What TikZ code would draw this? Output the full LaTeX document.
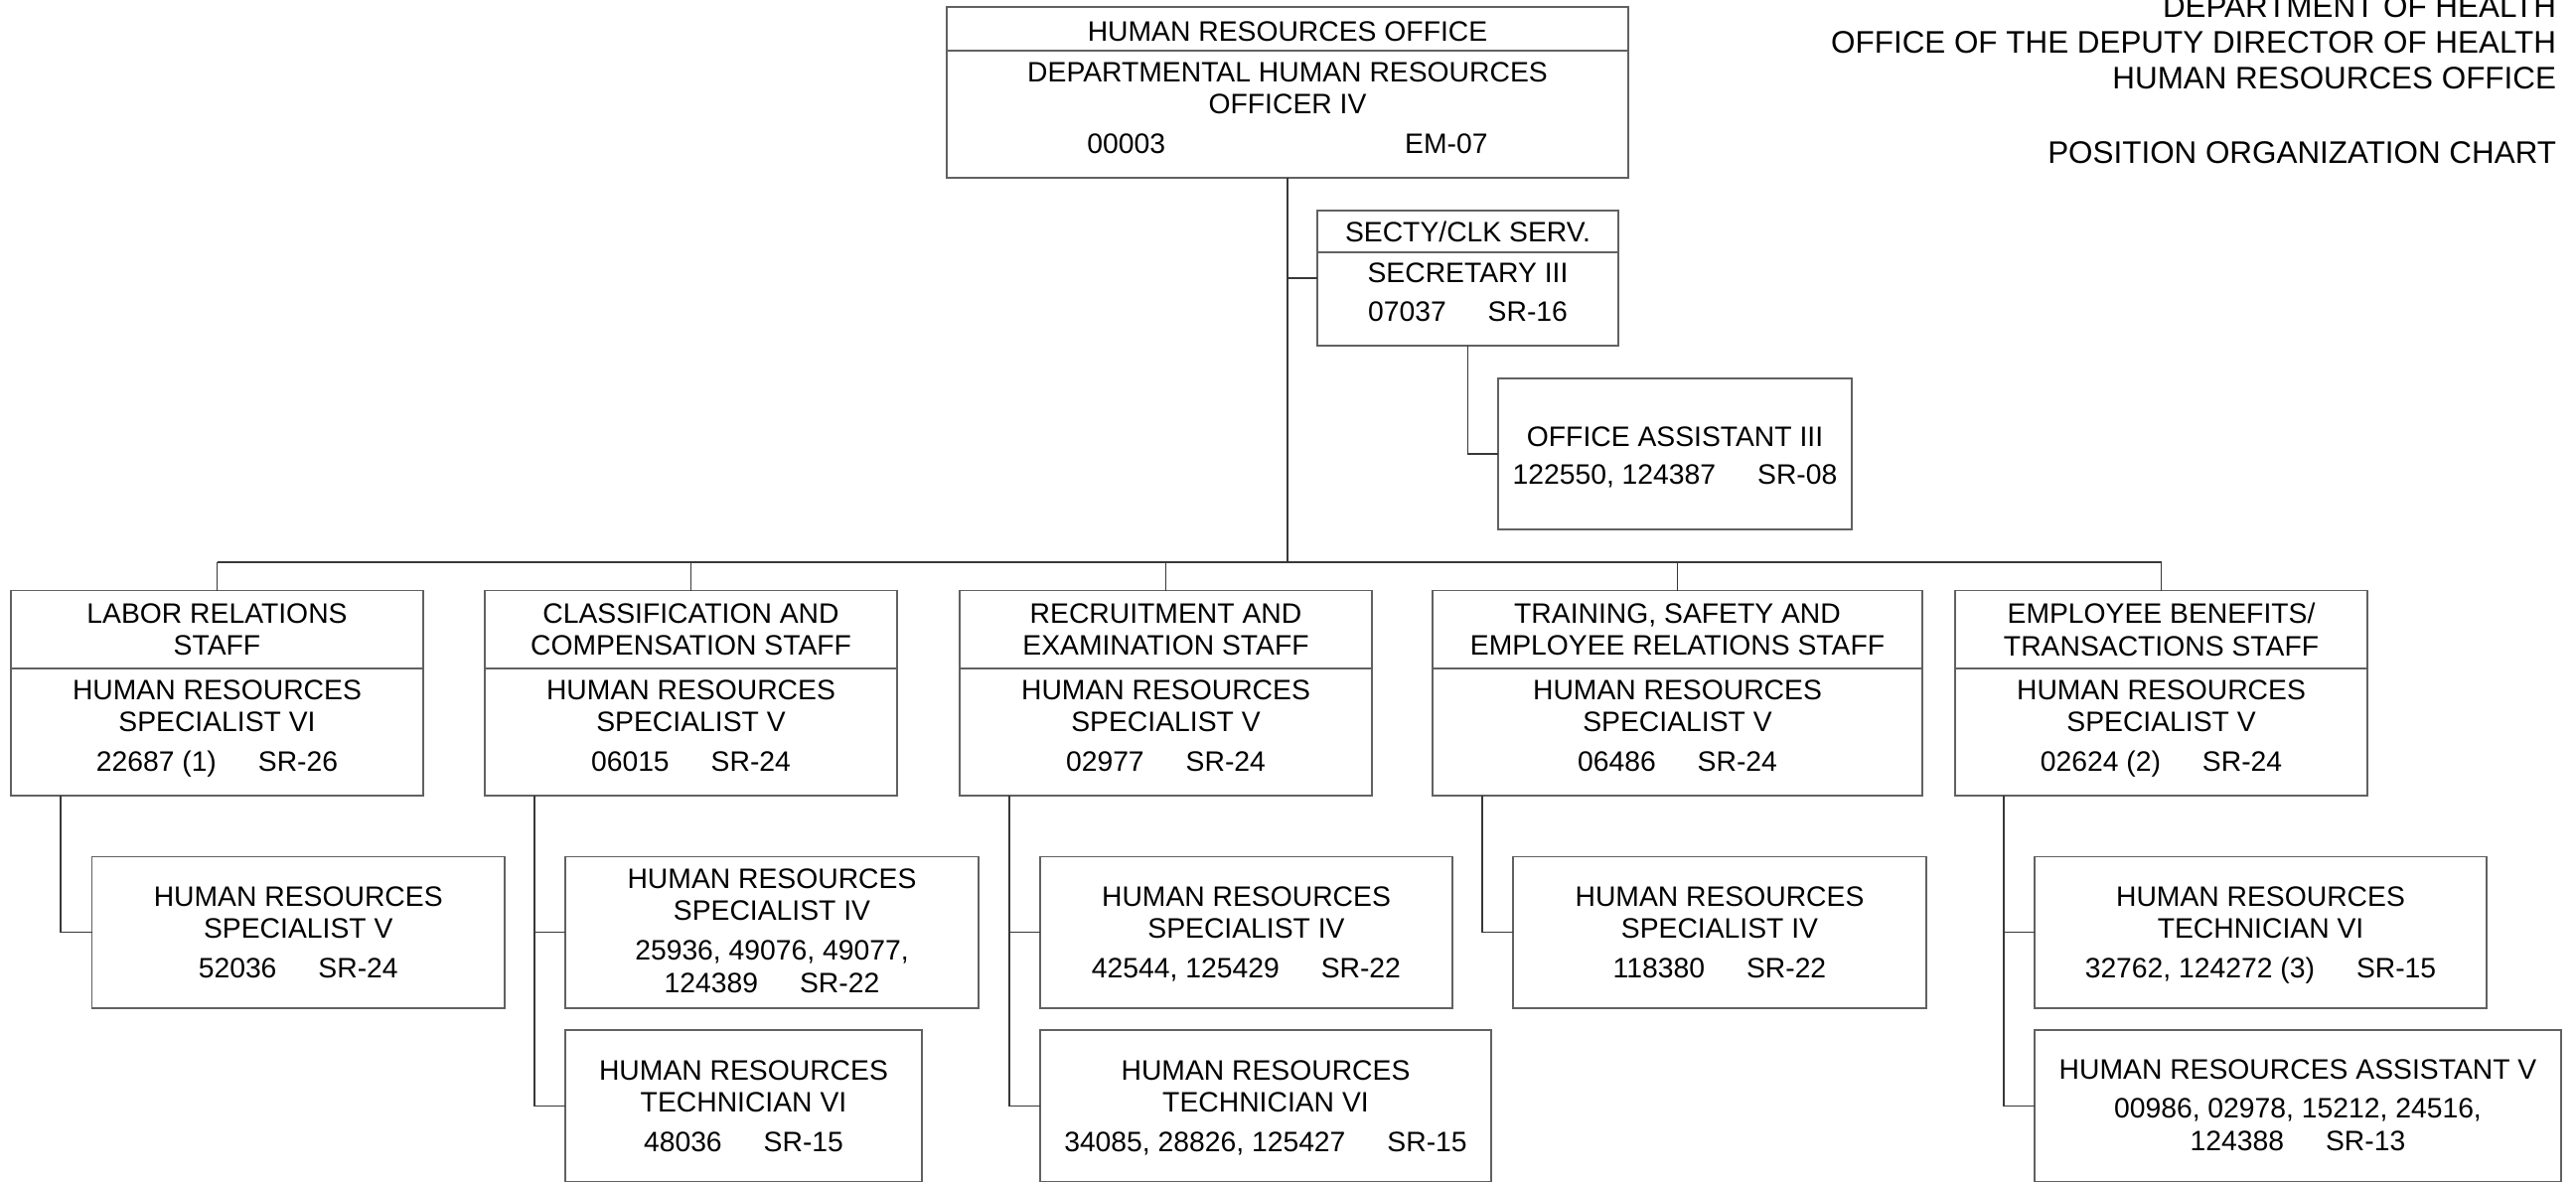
\documentclass[tikz,border=0pt]{standalone}
\usepackage{fontspec}
\setmainfont{Liberation Sans}
\newcommand\gp{\hspace{42pt}}
\begin{document}
\begin{tikzpicture}[x=1pt,y=-1pt]
\definecolor{lc}{gray}{0.38}
\definecolor{lc2}{gray}{0.22}
\tikzset{
 boxn/.style={draw=lc, line width=1.6pt, inner sep=0pt, outer sep=0pt, anchor=north west},
 txt/.style={font=\fontsize{28.3}{32.8}\selectfont, align=center, inner sep=0pt, outer sep=0pt, text=black},
 hdr/.style={font=\fontsize{31.4}{36}\selectfont, inner sep=0pt, outer sep=0pt, anchor=base east, text=black},
 conn/.style={draw=lc2, line width=1.4pt},
 sepl/.style={draw=lc, line width=1.6pt},
}
\useasboundingbox (0,0) rectangle (2593,1189);
\clip (0,0) rectangle (2593,1189);
\fill[white] (0,0) rectangle (2593,1189);

% header
\node[hdr] (h1) at (2573,17) {DEPARTMENT OF HEALTH};
\node[hdr] (h2) at (2573,53) {OFFICE OF THE DEPUTY DIRECTOR OF HEALTH};
\node[hdr] (h3) at (2573,89) {HUMAN RESOURCES OFFICE};
\node[hdr] (h4) at (2573,164) {POSITION ORGANIZATION CHART};

% top box
\node[boxn, minimum width=686pt, minimum height=172pt] (top) at (953,7) {};
\draw[sepl] (top.west |- 0,51) -- (top.east |- 0,51);
\node[txt, anchor=base] (topH) at (1296,41.7) {HUMAN RESOURCES OFFICE};
\node[txt, anchor=north] (topB) at (1296,62.4) {DEPARTMENTAL HUMAN RESOURCES\\OFFICER IV\\[6.5pt]00003\hspace{241pt}EM-07};

% secretary
\node[boxn, minimum width=303pt, minimum height=136pt] (sec) at (1326,212) {};
\draw[sepl] (sec.west |- 0,254) -- (sec.east |- 0,254);
\node[txt, anchor=base] (secH) at (1477.5,243.3) {SECTY/CLK SERV.};
\node[txt, anchor=north] (secB) at (1477.5,264.4) {SECRETARY III\\[6.5pt]07037\gp SR-16};

% office assistant
\node[boxn, minimum width=356pt, minimum height=152pt] (oa) at (1508,381) {};
\node[txt, anchor=north] (oaB) at (1686,429.4) {OFFICE ASSISTANT III\\[5.5pt]122550, 124387\gp SR-08};

% staff boxes
\node[boxn, minimum width=415pt, minimum height=206.5pt] (b1) at (11,594.5) {};
\node[boxn, minimum width=415pt, minimum height=206.5pt] (b2) at (488,594.5) {};
\node[boxn, minimum width=415pt, minimum height=206.5pt] (b3) at (966,594.5) {};
\node[boxn, minimum width=493pt, minimum height=206.5pt] (b4) at (1442,594.5) {};
\node[boxn, minimum width=415pt, minimum height=206.5pt] (b5) at (1968,594.5) {};
\foreach \b in {b1,b2,b3,b4,b5}{
  \draw[sepl] (\b.west |- 0,673) -- (\b.east |- 0,673);
}
\node[txt, anchor=north] (b1H) at (218.5,607.4) {LABOR RELATIONS\\STAFF};
\node[txt, anchor=north] (b2H) at (695.5,607.4) {CLASSIFICATION AND\\COMPENSATION STAFF};
\node[txt, anchor=north] (b3H) at (1173.5,607.4) {RECRUITMENT AND\\EXAMINATION STAFF};
\node[txt, anchor=north] (b4H) at (1688.5,607.4) {TRAINING, SAFETY AND\\EMPLOYEE RELATIONS STAFF};
\node[txt, anchor=north] (b5H) at (2175.5,607.4) {EMPLOYEE BENEFITS/\\TRANSACTIONS STAFF};
\node[txt, anchor=north] (b1B) at (218.5,684.4) {HUMAN RESOURCES\\SPECIALIST VI\\[6.5pt]22687 (1)\gp SR-26};
\node[txt, anchor=north] (b2B) at (695.5,684.4) {HUMAN RESOURCES\\SPECIALIST V\\[6.5pt]06015\gp SR-24};
\node[txt, anchor=north] (b3B) at (1173.5,684.4) {HUMAN RESOURCES\\SPECIALIST V\\[6.5pt]02977\gp SR-24};
\node[txt, anchor=north] (b4B) at (1688.5,684.4) {HUMAN RESOURCES\\SPECIALIST V\\[6.5pt]06486\gp SR-24};
\node[txt, anchor=north] (b5B) at (2175.5,684.4) {HUMAN RESOURCES\\SPECIALIST V\\[6.5pt]02624 (2)\gp SR-24};

% child boxes
\node[boxn, minimum width=415.5pt, minimum height=152.5pt] (c1) at (92.5,862.5) {};
\node[boxn, minimum width=416pt, minimum height=152.5pt] (c2a) at (569,862.5) {};
\node[boxn, minimum width=359pt, minimum height=152.5pt] (c2b) at (569,1037) {};
\node[boxn, minimum width=415pt, minimum height=152.5pt] (c3a) at (1047,862.5) {};
\node[boxn, minimum width=454pt, minimum height=152.5pt] (c3b) at (1047,1037) {};
\node[boxn, minimum width=416pt, minimum height=152.5pt] (c4) at (1523,862.5) {};
\node[boxn, minimum width=455pt, minimum height=152.5pt] (c5a) at (2048,862.5) {};
\node[boxn, minimum width=530pt, minimum height=152.5pt] (c5b) at (2048,1037) {};

\node[txt, anchor=north] (c1T) at (c1.center |- 0,892.4) {HUMAN RESOURCES\\SPECIALIST V\\[6.5pt]52036\gp SR-24};
\node[txt, anchor=north] (c2aT) at (c2a.center |- 0,874.4) {HUMAN RESOURCES\\SPECIALIST IV\\[6.5pt]25936, 49076, 49077,\\124389\gp SR-22};
\node[txt, anchor=north] (c2bT) at (c2b.center |- 0,1067.4) {HUMAN RESOURCES\\TECHNICIAN VI\\[6.5pt]48036\gp SR-15};
\node[txt, anchor=north] (c3aT) at (c3a.center |- 0,892.4) {HUMAN RESOURCES\\SPECIALIST IV\\[6.5pt]42544, 125429\gp SR-22};
\node[txt, anchor=north] (c3bT) at (c3b.center |- 0,1067.4) {HUMAN RESOURCES\\TECHNICIAN VI\\[6.5pt]34085, 28826, 125427\gp SR-15};
\node[txt, anchor=north] (c4T) at (c4.center |- 0,892.4) {HUMAN RESOURCES\\SPECIALIST IV\\[6.5pt]118380\gp SR-22};
\node[txt, anchor=north] (c5aT) at (c5a.center |- 0,892.4) {HUMAN RESOURCES\\TECHNICIAN VI\\[6.5pt]32762, 124272 (3)\gp SR-15};
\node[txt, anchor=north] (c5bT) at (c5b.center |- 0,1066.4) {HUMAN RESOURCES ASSISTANT V\\[6.5pt]00986, 02978, 15212, 24516,\\124388\gp SR-13};

% connectors
\coordinate (busL) at (b1.north |- 0,566);
\coordinate (busR) at (b5.north |- 0,566);
\draw[conn] (top.south) -- (top.south |- busL);
\draw[conn] (busL) -- (busR);
\foreach \b in {b1,b2,b3,b4,b5}{
  \draw[conn] (\b.north) -- (\b.north |- busL);
}
\draw[conn] (sec.west) -- (sec.west -| top.south);
\draw[conn] (sec.south) |- (oa.west);
\draw[conn] ([xshift=50pt]b1.south west) |- (c1.west);
\draw[conn] ([xshift=50pt]b2.south west) |- (c2a.west);
\draw[conn] ([xshift=50pt]b2.south west) |- (c2b.west);
\draw[conn] ([xshift=50pt]b3.south west) |- (c3a.west);
\draw[conn] ([xshift=50pt]b3.south west) |- (c3b.west);
\draw[conn] ([xshift=50pt]b4.south west) |- (c4.west);
\draw[conn] ([xshift=49pt]b5.south west) |- (c5a.west);
\draw[conn] ([xshift=49pt]b5.south west) |- (c5b.west);
\end{tikzpicture}
\end{document}
